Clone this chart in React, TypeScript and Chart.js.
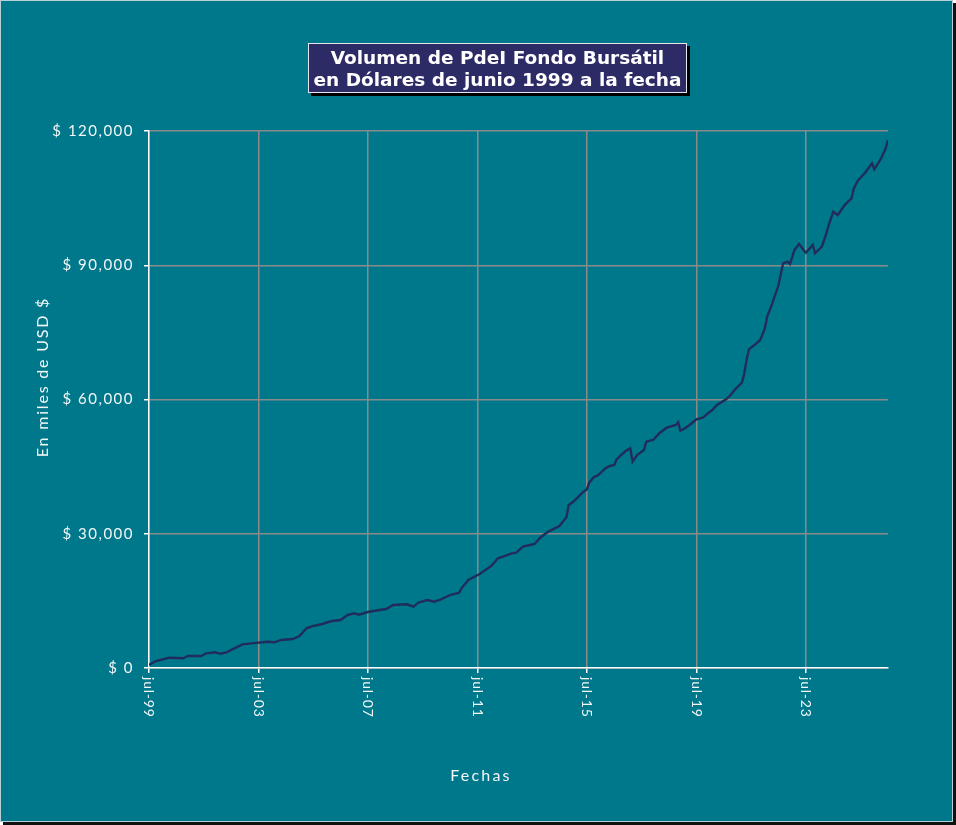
import { useEffect, useRef } from "react";
import { Chart, ChartConfiguration, registerables } from "chart.js";

Chart.register(...registerables);

// meses transcurridos desde jul-99
const meses = [
  0, 3, 5, 9, 15, 17, 23, 25, 29, 31, 34, 39, 41, 48, 52, 55, 58, 63, 66, 69,
  72, 76, 80, 84, 87, 90, 92, 96, 101, 104, 107, 113, 116, 118, 122, 125, 128,
  132, 136, 137, 140, 145, 150, 153, 157, 159, 161, 164, 167, 169, 172, 175,
  177, 180, 182, 183, 184, 186, 188, 190, 192, 193, 195, 197, 200, 202, 204,
  205, 207, 209, 211, 212, 214, 217, 218, 221, 224, 227, 231, 232, 233, 235,
  237, 240, 243, 245, 247, 249, 253, 255, 257, 260, 261, 262, 263, 266, 268,
  270, 271, 273, 276, 278, 280, 281, 283, 285, 287, 288, 291, 292, 295, 297,
  298, 300, 302, 305, 308, 309, 311, 314, 317, 318, 321, 323, 324,
];

// miles de USD
const volumen = [
  700, 1560, 1790, 2300, 2170, 2680, 2680, 3280, 3500, 3200, 3500, 4770, 5290,
  5660, 5880, 5740, 6260, 6480, 7150, 8860, 9390, 9830, 10500, 10730, 11840,
  12220, 11900, 12510, 12960, 13180, 14080, 14230, 13700, 14590, 15200, 14820,
  15350, 16310, 16830, 17810, 19660, 21000, 22790, 24510, 25250, 25630, 25770,
  27110, 27490, 27710, 29340, 30460, 30990, 31730, 33070, 33670, 36420, 37160,
  38140, 39180, 39930, 41410, 42610, 43130, 44600, 45140, 45360, 46630, 47600,
  48500, 49100, 46100, 47600, 48710, 50570, 50950, 52580, 53700, 54300, 54900,
  53030, 53560, 54300, 55580, 56020, 56910, 57650, 58770, 60040, 61000, 62280,
  63800, 65860, 68830, 71210, 72400, 73300, 75910, 78500, 81120, 85580, 90430,
  90790, 90280, 93410, 94750, 93410, 92800, 94520, 92670, 94150, 97130, 98990,
  101960, 101230, 103460, 104950, 107190, 109050, 110680, 112780, 111440,
  113900, 116130, 118000,
];

const ticksMeses = [0, 48, 96, 144, 192, 240, 288];
const ticksEtiquetas = ["jul-99", "jul-03", "jul-07", "jul-11", "jul-15", "jul-19", "jul-23"];
const ticksY = [0, 30000, 60000, 90000, 120000];

const FUENTE = "Lato, 'Open Sans', sans-serif";
const TEAL = "#00788b";
const GRIS = "#8a8a8a";
const BLANCO = "#ffffff";
const TEXTO = "#f2f7f8";
const LINEA = "#1f2c5c";

const espaciado = {
  id: "espaciado",
  beforeDraw(chart: Chart) {
    (chart.ctx as any).letterSpacing = "1.5px";
  },
};

// etiquetas de fechas giradas hacia abajo (lectura de arriba a abajo)
const etiquetasFechas = {
  id: "etiquetasFechas",
  afterDraw(chart: Chart) {
    const { ctx, scales, chartArea } = chart;
    const x = scales["x"];
    ctx.save();
    (ctx as any).letterSpacing = "0.8px";
    ctx.fillStyle = TEXTO;
    ctx.font = `14px ${FUENTE}`;
    ctx.textAlign = "left";
    ctx.textBaseline = "middle";
    ticksMeses.forEach((m, i) => {
      const px = x.getPixelForValue(m);
      ctx.save();
      ctx.translate(px, chartArea.bottom + 9);
      ctx.rotate(Math.PI / 2);
      ctx.fillText(ticksEtiquetas[i], 0, 0);
      ctx.restore();
    });
    ctx.restore();
  },
};

const App = () => {
  const canvasRef = useRef<HTMLCanvasElement | null>(null);
  const chartRef = useRef<Chart | null>(null);

  useEffect(() => {
    if (!canvasRef.current) return;
    const ctx = canvasRef.current.getContext("2d");
    if (!ctx) return;

    const config: ChartConfiguration = {
      type: "line",
      data: {
        datasets: [
          {
            label: "Volumen",
            data: meses.map((m, i) => ({ x: m, y: volumen[i] })),
            borderColor: LINEA,
            borderWidth: 2.4,
            pointRadius: 0,
            fill: false,
            tension: 0,
          },
        ],
      },
      plugins: [espaciado, etiquetasFechas],
      options: {
        responsive: false,
        animation: false,
        layout: { padding: { top: 130, right: 64, bottom: 113, left: 0 } },
        plugins: {
          legend: { display: false },
          tooltip: { enabled: false },
          title: { display: false },
        },
        scales: {
          x: {
            type: "linear",
            min: 0,
            max: 324,
            afterBuildTicks: (scale) => {
              scale.ticks = ticksMeses.map((v) => ({ value: v }));
            },
            afterFit: (scale) => {
              scale.height = 40;
            },
            ticks: { display: false, includeBounds: false },
            grid: {
              color: GRIS,
              lineWidth: 1.5,
              tickColor: BLANCO,
              tickLength: 5,
              tickWidth: 1.5,
            },
            border: { color: BLANCO, width: 1.5 },
          },
          y: {
            min: 0,
            max: 120000,
            afterBuildTicks: (scale) => {
              scale.ticks = ticksY.map((v) => ({ value: v }));
            },
            afterFit: (scale) => {
              scale.width = 148;
            },
            ticks: {
              color: TEXTO,
              padding: 10,
              font: { family: FUENTE, size: 15 },
              callback: (value) => `$ ${Number(value).toLocaleString("en-US")}`,
            },
            grid: {
              color: GRIS,
              lineWidth: 1.5,
              tickColor: BLANCO,
              tickLength: 5,
              tickWidth: 1.5,
            },
            border: { color: BLANCO, width: 1.5 },
          },
        },
      },
    };

    chartRef.current = new Chart(ctx, config);

    return () => {
      chartRef.current?.destroy();
      chartRef.current = null;
    };
  }, []);

  return (
    <div style={{ position: "absolute", left: 0, top: 0, width: 956, height: 825, fontFamily: FUENTE }}>
      <div
        style={{
          position: "absolute",
          left: 0,
          top: 0,
          width: 951,
          height: 820,
          background: TEAL,
          border: "1px solid #b9d0d5",
          boxShadow: "3px 3px 0 #111",
        }}
      >
        <canvas ref={canvasRef} width={951} height={820} style={{ display: "block" }} />
        <div
          style={{
            position: "absolute",
            left: 307,
            top: 42,
            width: 379,
            height: 50,
            boxSizing: "border-box",
            paddingTop: 3,
            background: "#2d2b66",
            border: "1px solid #e6e6f0",
            boxShadow: "3px 3px 0 #000",
            color: BLANCO,
            fontFamily: "'DejaVu Sans', Verdana, sans-serif",
            fontWeight: "bold",
            fontSize: 18.5,
            lineHeight: "21.7px",
            textAlign: "center",
            whiteSpace: "nowrap",
          }}
        >
          <div>Volumen de PdeI Fondo Bursátil</div>
          <div>en Dólares de junio 1999 a la fecha</div>
        </div>
        <div
          style={{
            position: "absolute",
            left: -59,
            top: 366,
            width: 200,
            height: 20,
            lineHeight: "20px",
            textAlign: "center",
            transform: "rotate(-90deg)",
            color: TEXTO,
            fontSize: 16,
            letterSpacing: "1.8px",
            whiteSpace: "nowrap",
          }}
        >
          En miles de USD $
        </div>
        <div
          style={{
            position: "absolute",
            left: 430,
            top: 764,
            width: 100,
            height: 20,
            lineHeight: "20px",
            textAlign: "center",
            color: TEXTO,
            fontSize: 16,
            letterSpacing: "2.2px",
            whiteSpace: "nowrap",
          }}
        >
          Fechas
        </div>
      </div>
    </div>
  );
};

export default App;
